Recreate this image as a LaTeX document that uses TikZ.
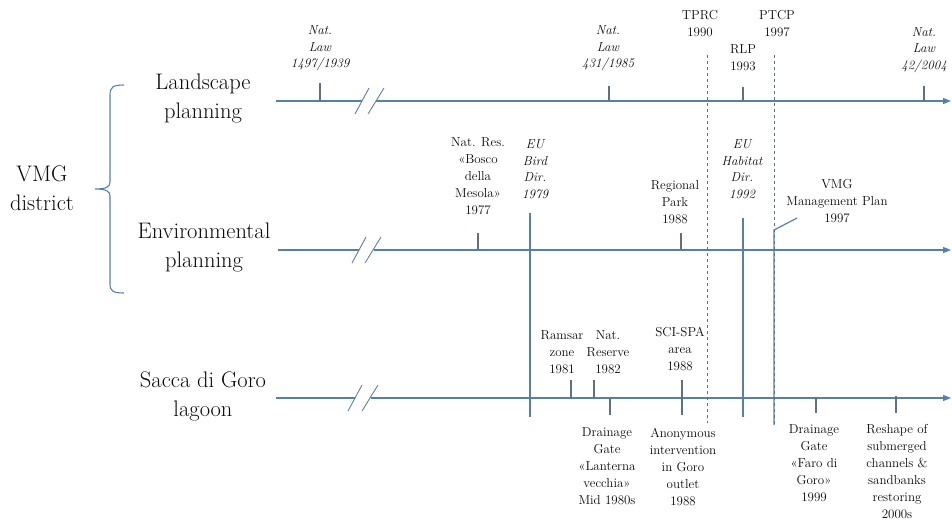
\documentclass[tikz,border=0pt]{standalone}
\usepackage{fontspec}
\usetikzlibrary{arrows.meta}
\definecolor{axis}{RGB}{84,128,175}
\definecolor{tickc}{RGB}{96,112,130}
\definecolor{txt}{RGB}{10,10,10}
\begin{document}
\begin{tikzpicture}[x=1pt,y=-1pt,
  big/.style={font=\fontsize{22.5}{29}\selectfont, align=center, text=txt, inner sep=0pt},
  small/.style={font=\fontsize{13}{17}\selectfont, align=center, text=txt, inner sep=0pt},
  smallit/.style={font=\fontsize{13}{16.5}\selectfont\itshape, align=center, text=txt, inner sep=0pt},
  axisline/.style={draw=axis, line width=1.2pt},
  axisarrow/.style={axisline, -{Triangle[length=8pt,width=6pt]}},
  brk/.style={draw=axis!80!gray, line width=0.9pt},
  tickline/.style={draw=tickc, line width=1.2pt},
  longline/.style={draw=axis, line width=1.2pt},
  dashline/.style={draw=tickc, line width=1pt, dash pattern=on 3pt off 3pt}]
\useasboundingbox (0,0) rectangle (952,523);

% ---- left labels and brace
\node[big] (vmg) at (42,188) {VMG\\district};
\node[big] (land) at (203,98) {Landscape\\planning};
\node[big] (env) at (204,247) {Environmental\\planning};
\node[big] (sacca) at (203,396) {Sacca di Goro\\lagoon};
\draw[draw=axis, line width=1.1pt] (124,85) .. controls (113,85) and (110,87) .. (110,95) -- (110,182)
  .. controls (110,187) and (106,189) .. (95,189) .. controls (106,189) and (110,191) .. (110,196)
  -- (110,284) .. controls (110,291) and (113,293) .. (124,293);

% ---- axes
\coordinate (L0) at (276,101); \coordinate (L1) at (362,101); \coordinate (L2) at (376,101); \coordinate (L3) at (951,101);
\coordinate (E0) at (278,250); \coordinate (E1) at (359,250); \coordinate (E2) at (374,250); \coordinate (E3) at (951,250);
\coordinate (S0) at (276,398); \coordinate (S1) at (355,398); \coordinate (S2) at (371,398); \coordinate (S3) at (951,398);
\draw[axisline] (L0) -- (L1);
\draw[axisarrow] (L2) -- (L3);
\draw[axisline] (E0) -- (E1);
\draw[axisarrow] (E2) -- (E3);
\draw[axisline] (S0) -- (S1);
\draw[axisarrow] (S2) -- (S3);
% breaks
\draw[brk] (355,114) -- (369,88);
\draw[brk] (368,114) -- (384,88);
\draw[brk] (352,263) -- (366,237);
\draw[brk] (365,263) -- (381,237);
\draw[brk] (348,411) -- (362,385);
\draw[brk] (362,411) -- (378,385);

% ---- Landscape planning events
\node[smallit] (nl1939) at (320,48.5) {Nat.\\Law\\1497/1939};
\node[smallit] (nl1985) at (608,48.5) {Nat.\\Law\\431/1985};
\node[small] (tprc) at (700,23.5) {TPRC\\1990};
\node[small] (rlp) at (743,58) {RLP\\1993};
\node[small] (ptcp) at (777,23.5) {PTCP\\1997};
\node[smallit] (nl2004) at (924,50) {Nat.\\Law\\42/2004};
\coordinate (t1939) at (320,83); \coordinate (b1939) at (320,101);
\coordinate (t1985) at (609,86); \coordinate (b1985) at (609,101);
\coordinate (t1993) at (743,87); \coordinate (b1993) at (743,101);
\coordinate (t2004) at (924,86); \coordinate (b2004) at (924,101);
\draw[tickline] (t1939) -- (b1939);
\draw[tickline] (t1985) -- (b1985);
\draw[tickline] (t1993) -- (b1993);
\draw[tickline] (t2004) -- (b2004);

% ---- Environmental planning events
\node[small] (natres) at (478,176) {Nat. Res.\\«Bosco\\della\\Mesola»\\1977};
\node[smallit] (bird) at (535,169) {EU\\Bird\\Dir.\\1979};
\node[small] (regpark) at (675,202) {Regional\\Park\\1988};
\node[smallit] (habitat) at (742,169) {EU\\Habitat\\Dir.\\1992};
\node[small] (vmgplan) at (837,201) {VMG\\Management Plan\\1997};
\coordinate (t1977) at (478,233); \coordinate (b1977) at (478,250);
\coordinate (t1988) at (681,233); \coordinate (b1988) at (681,250);
\draw[tickline] (t1977) -- (b1977);
\draw[tickline] (t1988) -- (b1988);

% ---- long vertical lines
\coordinate (birdtop) at (530,213); \coordinate (birdbot) at (530,417);
\coordinate (habtop) at (743,218); \coordinate (habbot) at (743,417);
\coordinate (plantop) at (774,230); \coordinate (planbot) at (774,425);
\coordinate (planlead) at (797,218);
\draw[longline] (birdtop) -- (birdbot);
\draw[longline] (habtop) -- (habbot);
\draw[longline] (planlead) -- (plantop) -- (planbot);
\coordinate (d1top) at (707,55); \coordinate (d1bot) at (707,423);
\coordinate (d2top) at (774,55); \coordinate (d2bot) at (774,425);
\draw[dashline] (d1top) -- (d1bot);
\draw[dashline] (d2top) -- (d2bot);

% ---- Sacca di Goro events
\node[small] (ramsar) at (562,352) {Ramsar\\zone\\1981};
\node[small] (natreserve) at (608,352) {Nat.\\Reserve\\1982};
\node[small] (scispa) at (680,349) {SCI-SPA\\area\\1988};
\node[small] (lanterna) at (607,466) {Drainage\\Gate\\«Lanterna\\vecchia»\\Mid 1980s};
\node[small] (anon) at (683,467) {Anonymous\\intervention\\in Goro\\outlet\\1988};
\node[small] (faro) at (814,463) {Drainage\\Gate\\«Faro di\\Goro»\\1999};
\node[small] (reshape) at (897,472) {Reshape of\\submerged\\channels \&\\sandbanks\\restoring\\2000s};
\coordinate (t1981) at (571,380); \coordinate (b1981) at (571,398);
\coordinate (t1982) at (594,380); \coordinate (b1982) at (594,398);
\coordinate (tlan) at (610,398); \coordinate (blan) at (610,415);
\coordinate (tsci) at (682,380); \coordinate (banon) at (682,415);
\coordinate (tfaro) at (816,397); \coordinate (bfaro) at (816,413);
\coordinate (tres) at (896,396); \coordinate (bres) at (896,413);
\draw[tickline] (t1981) -- (b1981);
\draw[tickline] (t1982) -- (b1982);
\draw[tickline] (tlan) -- (blan);
\draw[tickline] (tsci) -- (banon);
\draw[tickline] (tfaro) -- (bfaro);
\draw[tickline] (tres) -- (bres);
\end{tikzpicture}
\end{document}
